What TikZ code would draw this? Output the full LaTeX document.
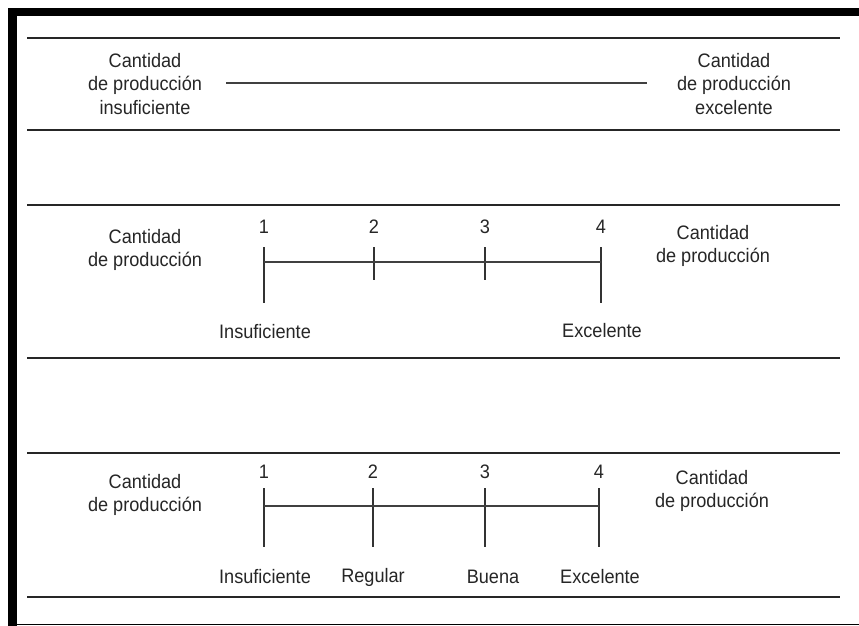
\documentclass[tikz,border=0pt]{standalone}
\usepackage{fontspec}
\setmainfont{Liberation Sans}[FakeStretch=0.93]
\begin{document}
\begin{tikzpicture}[x=1pt,y=-1pt,
  lbl/.style={font=\fontsize{19.5}{23.5}\selectfont, align=center, inner sep=0pt, text=black!85},
  num/.style={font=\fontsize{19.5}{22}\selectfont, inner sep=0pt, text=black!85},
  rule/.style={line width=2pt, black!85},
  scaleline/.style={line width=1.2pt, black!75},
  tick/.style={line width=1.3pt, black!80}]
\useasboundingbox (0,0) rectangle (859,626);
\fill[white] (0,0) rectangle (859,626);
% frame
\fill[black] (8,8) rectangle (859,16.5);
\fill[black] (8,8) rectangle (16.5,626);
\draw[line width=1pt] (16,624) -- (859,624);
% rules
\foreach \y/\n in {38/r1,130/r2,205/r3,358/r4,453/r5,597/r6}{
  \coordinate (\n a) at (27,\y);
  \coordinate (\n b) at (840,\y);
  \draw[rule] (\n a) -- (\n b);
}
% section 1
\node[lbl] (l1) at (145,84) {Cantidad\\de producción\\insuficiente};
\node[lbl] (r1) at (734,84) {Cantidad\\de producción\\excelente};
\coordinate (s1a) at (226,83);
\coordinate (s1b) at (647,83);
\draw[scaleline] (s1a) -- (s1b);
% section 2
\node[lbl] (l2) at (145,250) {Cantidad\\de producción};
\node[lbl] (r2) at (713,246) {Cantidad\\de producción};
\foreach \x/\k in {264/1,374/2,485/3,601/4}{
  \node[num] (n2\k) at (\x,227) {\k};
  \coordinate (t2\k) at (\x,247);
}
\coordinate (b21) at (264,303);
\coordinate (b22) at (374,280);
\coordinate (b23) at (485,280);
\coordinate (b24) at (601,303);
\foreach \k in {1,2,3,4}{ \draw[tick] (t2\k) -- (b2\k); }
\coordinate (h2a) at (264,262);
\coordinate (h2b) at (601,262);
\draw[scaleline] (h2a) -- (h2b);
\node[num] (i2) at (265,332) {Insuficiente};
\node[num] (e2) at (602,331) {Excelente};
% section 3
\node[lbl] (l3) at (145,495) {Cantidad\\de producción};
\node[lbl] (r3) at (712,491) {Cantidad\\de producción};
\foreach \x/\k in {264/1,373/2,485/3,599/4}{
  \node[num] (n3\k) at (\x,472) {\k};
  \coordinate (t3\k) at (\x,488);
  \coordinate (b3\k) at (\x,547);
  \draw[tick] (t3\k) -- (b3\k);
}
\coordinate (h3a) at (264,506);
\coordinate (h3b) at (599,506);
\draw[scaleline] (h3a) -- (h3b);
\node[num] (i3) at (265,577) {Insuficiente};
\node[num] (g3) at (373,577) {Regular};
\node[num] (u3) at (493,577) {Buena};
\node[num] (e3) at (600,577) {Excelente};
\end{tikzpicture}
\end{document}
